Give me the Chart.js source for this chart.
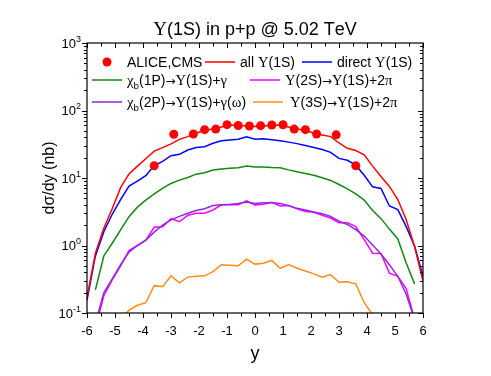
<!DOCTYPE html>
<html>
<head>
<meta charset="utf-8">
<script src="https://cdn.jsdelivr.net/npm/chart.js@4.4.1/dist/chart.umd.min.js"></script>
<style>html,body{margin:0;padding:0;background:#fff}</style>
</head>
<body>
<canvas id="chart" width="491" height="376"></canvas>
<script>
// rapidity grid of the model curves
const rapidity = [-6, -5.7, -5.4, -5.1, -4.8, -4.5, -4.2, -3.9, -3.6, -3.3, -3.0, -2.7, -2.4, -2.1, -1.8, -1.5, -1.2, -0.9, -0.6, -0.3,
  0, 0.3, 0.6, 0.9, 1.2, 1.5, 1.8, 2.1, 2.4, 2.7, 3.0, 3.3, 3.6, 3.9, 4.2, 4.5, 4.8, 5.1, 5.4, 5.7, 6];

const allY1S = [0.17, 0.77, 1.8, 3.5, 7.2, 11.5, 15, 19.3, 25, 28.2, 32, 37.4, 41, 46, 51, 53, 57, 61, 60, 59,
  58, 59, 60, 61, 57, 53, 51, 46, 43.5, 41, 33, 27.5, 25.5, 22, 15, 10.5, 7.5, 4.8, 2.4, 0.96, 0.3];
const directY1S = [0.155, 0.7, 1.6, 2.9, 4.8, 7.6, 9.0, 10.8, 15.3, 17.6, 21.4, 22.4, 26, 28.2, 29, 32.7, 35.7, 36.6, 37.4, 40.7,
  37.4, 38, 37, 35.7, 34, 32.3, 30.3, 28.3, 26.4, 24, 19.5, 18.3, 15.5, 11, 7.4, 7.0, 3.85, 3.4, 1.9, 0.98, 0.35];
const chib1P = [null, 0.22, 0.7, 1.08, 1.7, 2.67, 3.7, 4.7, 5.8, 7.0, 8.3, 9.3, 10.2, 11.4, 12.0, 13.1, 13.6, 13.9, 14.2, 15,
  14.6, 14.5, 14.3, 14.2, 13.2, 12.4, 11.7, 11.0, 10.1, 9.2, 8.0, 6.9, 5.8, 4.7, 3.3, 2.5, 1.75, 1.25, 0.55, 0.27, null];
const y2S = [null, 0.06, 0.18, 0.31, 0.5, 0.84, 1.0, 1.2, 1.86, 1.9, 2.5, 2.25, 2.8, 3.0, 3.0, 3.36, 4.0, 4.05, 4.0, 4.6,
  4.0, 4.1, 4.35, 3.85, 3.9, 3.5, 3.2, 3.1, 2.8, 2.55, 2.18, 2.18, 1.9, 1.22, 0.77, 0.76, 0.39, 0.35, 0.23, 0.08, null];
const chib2P = [null, 0.07, 0.2, 0.32, 0.52, 0.8, 1.0, 1.2, 1.58, 2.0, 2.4, 2.7, 3.0, 3.3, 3.5, 3.9, 4.0, 4.05, 4.2, 4.4,
  4.2, 4.3, 4.3, 4.2, 3.9, 3.55, 3.35, 3.15, 2.95, 2.7, 2.3, 2.05, 1.72, 1.38, 1.02, 0.75, 0.52, 0.35, 0.19, 0.08, null];
const y3S = [null, null, null, null, 0.08, 0.11, 0.13, 0.142, 0.254, 0.245, 0.355, 0.28, 0.34, 0.35, 0.355, 0.41, 0.52, 0.51, 0.5, 0.63,
  0.53, 0.545, 0.6, 0.46, 0.52, 0.46, 0.42, 0.38, 0.34, 0.37, 0.285, 0.29, 0.27, 0.142, 0.095, null, null, null, null, null, null];

// ALICE, CMS measurements
const dataY = [-3.6, -2.9, -2.2, -1.8, -1.4, -1.0, -0.6, -0.2, 0.2, 0.6, 1.0, 1.4, 1.8, 2.2, 2.9, 3.6];
const dataSigma = [15.2, 44.4, 44.9, 52, 53, 61.7, 60, 59, 59.6, 61, 61.6, 53, 52, 44.9, 43.6, 15.2];

const xTickLabels = ['-6', '-5', '-4', '-3', '-2', '-1', '0', '1', '2', '3', '4', '5', '6'];
const yTickExps = ['-1', '0', '1', '2', '3'];

const FONT = '"Liberation Sans", Arial, sans-serif';
const GREEK = '"Liberation Serif", "DejaVu Serif", serif';
const ARROW = '"DejaVu Sans", sans-serif';
const GREEK_CHARS = 'Υχγπω';

function pts(ys) {
  return rapidity.map((x, i) => ({ x: x, y: ys[i] }));
}

function lineSet(label, ys, color) {
  return { label, data: pts(ys), borderColor: color, backgroundColor: color, borderWidth: 1.5,
    pointRadius: 0, tension: 0, spanGaps: false };
}

// draws text with greek letters in a serif face and "_x" as subscript
function rich(ctx, str, x, y, size) {
  for (let i = 0; i < str.length; i++) {
    let ch = str[i], fs = size, dy = 0, fam = FONT;
    if (ch === '_') { ch = str[++i]; fs = size * 0.7; dy = size * 0.3; }
    else if (GREEK_CHARS.includes(ch)) { fam = GREEK; fs = size * 1.05; }
    else if (ch === '→') { fam = ARROW; fs = size * 0.85; }
    ctx.font = `${fs}px ${fam}`;
    ctx.fillText(ch, x, y + dy);
    x += ctx.measureText(ch).width;
  }
  return x;
}

function richWidth(ctx, str, size) {
  ctx.save();
  ctx.globalAlpha = 0;
  const w = rich(ctx, str, 0, 0, size);
  ctx.restore();
  return w;
}

const legendRows = [
  { kind: 'dot', ds: 0, x: 107, y: 62, tx: 127, text: 'ALICE,CMS' },
  { kind: 'line', ds: 1, x: 205, y: 62, tx: 240, text: 'all Υ(1S)' },
  { kind: 'line', ds: 2, x: 302, y: 62, tx: 337, text: 'direct Υ(1S)' },
  { kind: 'line', ds: 3, x: 92, y: 80, tx: 127, text: 'χ_b(1P)→Υ(1S)+γ' },
  { kind: 'line', ds: 4, x: 250, y: 80, tx: 285, text: 'Υ(2S)→Υ(1S)+2π' },
  { kind: 'line', ds: 5, x: 92, y: 102, tx: 127, text: 'χ_b(2P)→Υ(1S)+γ(ω)' },
  { kind: 'line', ds: 6, x: 253, y: 102, tx: 290, text: 'Υ(3S)→Υ(1S)+2π' }
];

const frame = {
  id: 'frame',
  afterDraw(chart) {
    const ctx = chart.ctx, a = chart.chartArea;
    const xs = chart.scales.x, ys = chart.scales.y;
    ctx.save();
    ctx.strokeStyle = '#000';
    ctx.fillStyle = '#000';
    ctx.lineWidth = 1.2;
    ctx.strokeRect(a.left, a.top, a.right - a.left, a.bottom - a.top);

    // x ticks: outward at bottom, inward at top
    ctx.lineWidth = 1;
    ctx.beginPath();
    for (let v = -6; v <= 6.001; v += 0.5) {
      const px = Math.round(xs.getPixelForValue(v)) + 0.5;
      const len = Math.abs(v % 1) < 0.01 ? 5 : 3.5;
      ctx.moveTo(px, a.bottom); ctx.lineTo(px, a.bottom + len);
      ctx.moveTo(px, a.top); ctx.lineTo(px, a.top + len);
    }
    // y ticks (log): outward on the left, inward on the right
    for (let e = -1; e <= 2; e++) {
      for (let m = 1; m <= 9; m++) {
        const py = Math.round(ys.getPixelForValue(m * Math.pow(10, e))) + 0.5;
        const len = m === 1 ? 5 : 3;
        ctx.moveTo(a.left - len, py); ctx.lineTo(a.left, py);
        ctx.moveTo(a.right - len, py); ctx.lineTo(a.right, py);
      }
    }
    const pTop = Math.round(ys.getPixelForValue(1000)) + 0.5;
    ctx.moveTo(a.left - 5, pTop); ctx.lineTo(a.left, pTop);
    ctx.stroke();

    // x tick labels
    ctx.font = `13px ${FONT}`;
    ctx.textAlign = 'center';
    ctx.textBaseline = 'middle';
    xTickLabels.forEach(t => ctx.fillText(t, xs.getPixelForValue(Number(t)), a.bottom + 18));

    // y tick labels 10^n
    ctx.textAlign = 'left';
    ctx.textBaseline = 'alphabetic';
    yTickExps.forEach(ex => {
      const py = ys.getPixelForValue(Math.pow(10, Number(ex)));
      ctx.font = `9px ${FONT}`;
      const we = ctx.measureText(ex).width;
      ctx.font = `13px ${FONT}`;
      const wb = ctx.measureText('10').width;
      const x0 = a.left - 6 - we - wb;
      ctx.fillText('10', x0, py + 4.5);
      ctx.font = `9px ${FONT}`;
      ctx.fillText(ex, x0 + wb, py - 1.5);
    });

    // axis titles
    ctx.font = `18px ${FONT}`;
    ctx.textAlign = 'center';
    ctx.textBaseline = 'middle';
    ctx.fillText('y', (a.left + a.right) / 2, 354);
    ctx.save();
    ctx.translate(50, (a.top + a.bottom) / 2);
    ctx.rotate(-Math.PI / 2);
    ctx.font = `16px ${FONT}`;
    ctx.fillText('dσ/dy (nb)', 0, 0);
    ctx.restore();

    // title
    ctx.textAlign = 'left';
    ctx.textBaseline = 'alphabetic';
    const title = 'Υ(1S) in p+p @ 5.02 TeV';
    const tw = richWidth(ctx, title, 18);
    ctx.fillStyle = '#000';
    rich(ctx, title, (a.left + a.right) / 2 - tw / 2, 35, 18);

    // legend
    legendRows.forEach(r => {
      const ds = chart.data.datasets[r.ds];
      ctx.strokeStyle = ds.borderColor;
      ctx.fillStyle = ds.backgroundColor;
      if (r.kind === 'dot') {
        ctx.beginPath();
        ctx.arc(r.x, r.y, 4.5, 0, Math.PI * 2);
        ctx.fill();
      } else {
        ctx.lineWidth = 1.5;
        ctx.beginPath();
        ctx.moveTo(r.x, r.y); ctx.lineTo(r.x + 30, r.y);
        ctx.stroke();
      }
      ctx.fillStyle = '#000';
      rich(ctx, r.text, r.tx, r.y + 5, 14);
    });
    ctx.restore();
  }
};

new Chart(document.getElementById('chart'), {
  type: 'line',
  data: {
    datasets: [
      { label: 'ALICE,CMS', type: 'scatter', data: dataY.map((x, i) => ({ x: x, y: dataSigma[i] })),
        borderColor: '#ff0000', backgroundColor: '#ff0000', pointRadius: 4.5, pointBorderWidth: 0, showLine: false, order: 0 },
      { ...lineSet('all Υ(1S)', allY1S, '#ff0000'), order: 1 },
      { ...lineSet('direct Υ(1S)', directY1S, '#0000ff'), order: 2 },
      { ...lineSet('χb(1P)→Υ(1S)+γ', chib1P, '#118811'), order: 3 },
      { ...lineSet('Υ(2S)→Υ(1S)+2π', y2S, '#ff00ff'), order: 5 },
      { ...lineSet('χb(2P)→Υ(1S)+γ(ω)', chib2P, '#8a2be2'), order: 4 },
      { ...lineSet('Υ(3S)→Υ(1S)+2π', y3S, '#ff8c1a'), order: 6 }
    ]
  },
  options: {
    responsive: false,
    animation: false,
    devicePixelRatio: 1,
    layout: { padding: { top: 43, right: 68, left: 0, bottom: 0 } },
    plugins: { legend: { display: false }, tooltip: { enabled: false }, title: { display: false } },
    scales: {
      x: {
        type: 'linear', min: -6, max: 6,
        grid: { display: false }, border: { display: false }, ticks: { display: false },
        afterFit: s => { s.height = 63; }
      },
      y: {
        type: 'logarithmic', min: 0.1, max: 1000,
        grid: { display: false }, border: { display: false }, ticks: { display: false },
        afterFit: s => { s.width = 87; }
      }
    }
  },
  plugins: [frame]
});
</script>
</body>
</html>
